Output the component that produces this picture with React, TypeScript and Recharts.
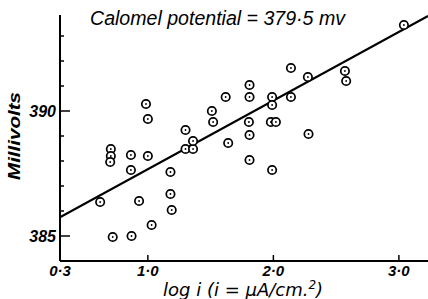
import { ScatterChart, Scatter, XAxis, YAxis } from 'recharts'

const logI = [
  0.62, 0.72, 0.87, 0.705, 0.705, 0.70, 0.865, 0.865, 1.0, 0.985, 1.0, 0.93, 1.03,
  1.18, 1.18, 1.19, 1.30, 1.30, 1.36, 1.36, 1.51, 1.52, 1.62, 1.81, 1.81, 1.99,
  1.99, 1.805, 1.98, 2.02, 1.81, 1.64, 2.28, 2.14, 2.275, 2.14, 2.57, 2.58, 3.04,
  1.81, 1.99,
]
const millivolts = [
  386.36, 384.96, 385.0, 388.48, 388.2, 387.96, 388.24, 387.64, 388.2, 390.28, 389.68, 386.4, 385.44,
  387.56, 386.68, 386.04, 389.24, 388.48, 388.48, 388.8, 390.0, 389.56, 390.56, 391.04, 390.56, 390.56,
  390.24, 389.56, 389.56, 389.56, 389.04, 388.72, 389.08, 391.72, 391.36, 390.56, 391.6, 391.2, 393.44,
  388.04, 387.64,
]
const fitX = [0.3, 3.232]
const fitY = [385.75, 393.8]

const xTicks = [0.3, 1.0, 2.0, 3.0]
const yTicks = [385, 386, 387, 388, 389, 390, 391, 392, 393]
const yLabelled = [385, 390]

const points = logI.map((x, i) => ({ x, y: millivolts[i] }))
const fit = fitX.map((x, i) => ({ x, y: fitY[i] }))

const font = '"Liberation Sans", Arial, sans-serif'
const wide = '"DejaVu Sans", sans-serif'
const fmt = (v: number) => v.toFixed(1).replace('.', '·')

function Ring(props: any) {
  const { cx, cy } = props
  return (
    <g>
      <circle cx={cx} cy={cy} r={4.2} fill="#fff" stroke="#000" strokeWidth={1.7} />
      <circle cx={cx} cy={cy} r={0.9} fill="#000" />
    </g>
  )
}

function YTick(props: any) {
  const { x, y, payload } = props
  const major = yLabelled.includes(payload.value)
  return (
    <g>
      <line x1={x} x2={x + (major ? 10 : 4)} y1={y} y2={y} stroke="#000" strokeWidth={1.5} />
      {major && (
        <text x={x - 4} y={y + 6} textAnchor="end" fontFamily={font} fontStyle="italic"
          fontWeight="bold" fontSize={16} fill="#000">{payload.value}</text>
      )}
    </g>
  )
}

function XTick(props: any) {
  const { x, y, payload } = props
  return (
    <g>
      {payload.value > 0.5 && <line x1={x} x2={x} y1={y} y2={y - 6} stroke="#000" strokeWidth={1.5} />}
      <text x={x} y={y + 15} textAnchor="middle" fontFamily={font} fontStyle="italic"
        fontWeight="bold" fontSize={15} fill="#000">{fmt(payload.value)}</text>
    </g>
  )
}

export default function App() {
  return (
    <div style={{ position: 'absolute', left: 0, top: 0, width: 428, height: 299, background: '#fff' }}>
      <ScatterChart width={428} height={299} margin={{ top: 15, right: 0, left: 0, bottom: 0 }}>
        <XAxis type="number" dataKey="x" domain={[0.3, 3.232]} ticks={xTicks} height={38}
          tickSize={0} tickMargin={0} tick={<XTick />} tickLine={false}
          axisLine={{ stroke: '#000', strokeWidth: 2 }} allowDataOverflow />
        <YAxis type="number" dataKey="y" domain={[384, 393.84]} ticks={yTicks} width={60}
          tickSize={0} tickMargin={0} tick={<YTick />} tickLine={false}
          axisLine={{ stroke: '#000', strokeWidth: 2 }} allowDataOverflow />
        <Scatter data={fit} line={{ stroke: '#000', strokeWidth: 2 }} shape={() => <g />}
          isAnimationActive={false} />
        <Scatter data={points} shape={<Ring />} isAnimationActive={false} />
        <text x={90} y={25} fontFamily={font} fontStyle="italic" fontSize={20} fill="#000"
          textLength={255} lengthAdjust="spacingAndGlyphs">
          Calomel potential = 379·5 mv
        </text>
        <text x={14} y={136} transform="rotate(-90 14 136)" textAnchor="middle" dominantBaseline="central"
          fontFamily={font} fontStyle="italic" fontWeight="bold" fontSize={17} fill="#000"
          textLength={88} lengthAdjust="spacingAndGlyphs">
          Millivolts
        </text>
        <text x={163} y={296} fontFamily={wide} fontStyle="italic" fontSize={18} fill="#000">
          log i (i = μA/cm.<tspan dy={-7} fontSize={12}>2</tspan><tspan dy={7}>)</tspan>
        </text>
      </ScatterChart>
    </div>
  )
}
